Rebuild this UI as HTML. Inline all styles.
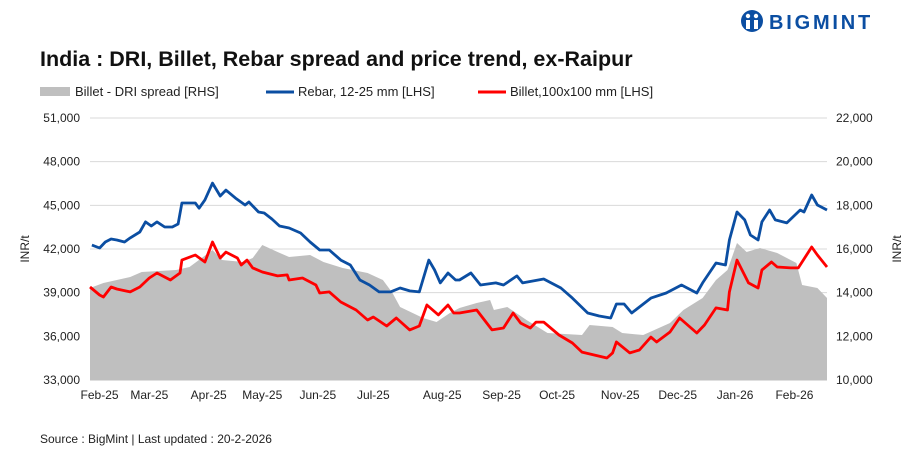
<!DOCTYPE html>
<html><head><meta charset="utf-8">
<style>
body{margin:0;background:#fff;font-family:"Liberation Sans",Arial,sans-serif;}
svg text{font-family:"Liberation Sans",Arial,sans-serif;}
</style></head>
<body>
<svg width="915" height="457" viewBox="0 0 915 457" xmlns="http://www.w3.org/2000/svg">
<g>
<circle cx="752" cy="21" r="11" fill="#0b4ea2"/>
<circle cx="748" cy="16" r="2.2" fill="#fff"/><circle cx="756" cy="16" r="2.2" fill="#fff"/>
<rect x="746" y="20" width="4" height="9" fill="#fff"/><rect x="754" y="20" width="4" height="9" fill="#fff"/>
<text x="769" y="29" font-size="20" font-weight="bold" fill="#0b4ea2" letter-spacing="2.8">BIGMINT</text>
</g>
<text x="40" y="66" font-size="21.5" font-weight="bold" fill="#111">India : DRI, Billet, Rebar spread and price trend, ex-Raipur</text>
<g font-size="13" fill="#222">
<g><rect x="40" y="87" width="30" height="9" fill="#bfbfbf"/><text x="75" y="96">Billet - DRI spread  [RHS]</text></g>
<g><line x1="266" y1="92" x2="294" y2="92" stroke="#0b4ea2" stroke-width="3"/><text x="298" y="96">Rebar, 12-25 mm [LHS]</text></g>
<g><line x1="478" y1="92" x2="506" y2="92" stroke="#ff0000" stroke-width="3"/><text x="510" y="96">Billet,100x100 mm [LHS]</text></g>
</g>
<g id="grid"></g>
<g id="area"></g>
<g id="lines"></g>
<g id="axes" font-size="12" fill="#222"></g>
<text transform="translate(29,249) rotate(-90)" text-anchor="middle" font-size="12" fill="#222">INR/t</text>
<text transform="translate(901,249) rotate(-90)" text-anchor="middle" font-size="12" fill="#222">INR/t</text>
<text x="40" y="443" font-size="12" fill="#222">Source : BigMint | Last updated : 20-2-2026</text>
</svg>
<script>
const rebarDays=[-4,0,3,6,9,13,16,21,24,27,30,34,38,41,43,50,52,55,59,63,66,71,76,78,83,86,90,94,99,105,110,115,120,126,131,136,141,146,152,157,162,167,172,175,178,182,186,188,194,199,207,211,218,221,232,241,247,255,261,267,270,274,278,288,296,304,312,315,322,327,329,333,337,340,344,346,350,353,359,366,368,372,375,380];
const rebarVals=[42270,42070,42480,42690,42620,42480,42760,43170,43860,43580,43860,43510,43510,43720,45160,45160,44800,45370,46530,45640,46050,45500,45020,45230,44540,44470,44060,43580,43440,43100,42480,41930,41930,41240,40900,39870,39530,39050,39050,39320,39120,39050,41240,40560,39670,40350,39870,39870,40350,39530,39670,39530,40150,39670,39940,39320,38630,37600,37400,37260,38220,38220,37600,38630,38980,39530,38980,39670,41040,40900,42620,44540,44000,42960,42620,43860,44680,44000,43790,44680,44540,45710,45020,44680];
const billetDays=[-5,0,2,6,9,16,21,26,30,37,42,43,50,55,59,63,66,72,74,77,80,85,93,98,99,106,113,115,120,126,134,140,143,150,155,162,167,171,177,182,185,188,197,205,211,216,220,225,228,232,240,247,252,265,268,270,277,282,288,291,298,303,312,316,322,328,329,333,339,344,346,351,354,361,365,372,375,380];
const billetVals=[39390,38840,38700,39390,39250,39050,39390,40010,40350,39870,40350,41240,41590,41110,42480,41380,41790,41380,40900,41240,40700,40420,40150,40220,39870,40010,39530,38980,39050,38360,37810,37120,37330,36710,37260,36440,36710,38150,37470,38150,37600,37600,37810,36440,36570,37600,36910,36570,36980,36980,36090,35540,34920,34510,34860,35610,34860,35060,35950,35610,36300,37260,36230,36780,37950,37810,39050,41240,39670,39320,40560,41110,40760,40700,40700,42140,41590,40760];
const spreadDays=[-5,2,16,22,40,47,59,64,75,80,85,93,99,110,117,127,140,148,153,157,169,176,183,188,197,204,206,213,223,234,252,256,268,273,284,298,305,315,322,328,333,338,345,354,364,367,375,380];
const spreadVals=[14214,14443,14718,14947,15038,15176,15954,15496,15405,15588,16183,15863,15634,15725,15405,15130,14901,14580,13985,13344,12840,12657,13069,13298,13527,13664,13206,13344,12749,12153,12061,12519,12428,12153,12061,12611,13206,13756,14580,15038,16275,15863,16046,15817,15359,14351,14214,13756];
const leftTicks=[33000,36000,39000,42000,45000,48000,51000];
const rightTicks=[10000,12000,14000,16000,18000,20000,22000];
const monthLabels=["Feb-25","Mar-25","Apr-25","May-25","Jun-25","Jul-25","Aug-25","Sep-25","Oct-25","Nov-25","Dec-25","Jan-26","Feb-26"];
const monthDays=[0,26,57,85,114,143,179,210,239,272,302,332,363];

const X0=90,X1=827,D0=-5,D1=380,YT=118,YB=380;
const x=d=>X0+(d-D0)*(X1-X0)/(D1-D0);
const yL=v=>YB-(v-33000)*(YB-YT)/18000;
const yR=v=>YB-(v-10000)*(YB-YT)/12000;
const NS="http://www.w3.org/2000/svg";
function mk(t,a,p){const e=document.createElementNS(NS,t);for(const k in a)e.setAttribute(k,a[k]);p.appendChild(e);return e;}
const grid=document.getElementById('grid'),area=document.getElementById('area'),lines=document.getElementById('lines'),axes=document.getElementById('axes');
leftTicks.forEach((v,i)=>{
  if(i>0){const g=mk('line',{x1:X0,x2:X1,y1:yL(v),y2:yL(v),stroke:'#d9d9d9','stroke-width':1},grid);
  
  }
  const t=mk('text',{x:80,y:yL(v)+4,'text-anchor':'end'},axes);t.textContent=v.toLocaleString('en-US');
  
  
});
rightTicks.forEach(v=>{
  const t=mk('text',{x:836,y:yR(v)+4},axes);t.textContent=v.toLocaleString('en-US');
  
  
});
monthLabels.forEach((m,i)=>{
  const t=mk('text',{x:x(monthDays[i]),y:399,'text-anchor':'middle'},axes);t.textContent=m;
  
  
});
let d='M'+x(spreadDays[0])+','+YB;
spreadDays.forEach((s,i)=>d+=' L'+x(s).toFixed(1)+','+yR(spreadVals[i]).toFixed(1));
d+=' L'+x(spreadDays[spreadDays.length-1])+','+YB+' Z';
const ar=mk('path',{d:d,fill:'#bfbfbf'},area);


function line(days,vals,col,name){
  const p=days.map((s,i)=>x(s).toFixed(1)+','+yL(vals[i]).toFixed(1)).join(' ');
  const e=mk('polyline',{points:p,fill:'none',stroke:col,'stroke-width':2.8,'stroke-linejoin':'round'},lines);
  
  
}
line(rebarDays,rebarVals,'#0b4ea2','rebar-line');
line(billetDays,billetVals,'#ff0000','billet-line');
const ax=mk('line',{x1:X0,x2:X1,y1:YB,y2:YB,stroke:'#bfbfbf','stroke-width':1},axes);


</script>
</body></html>
